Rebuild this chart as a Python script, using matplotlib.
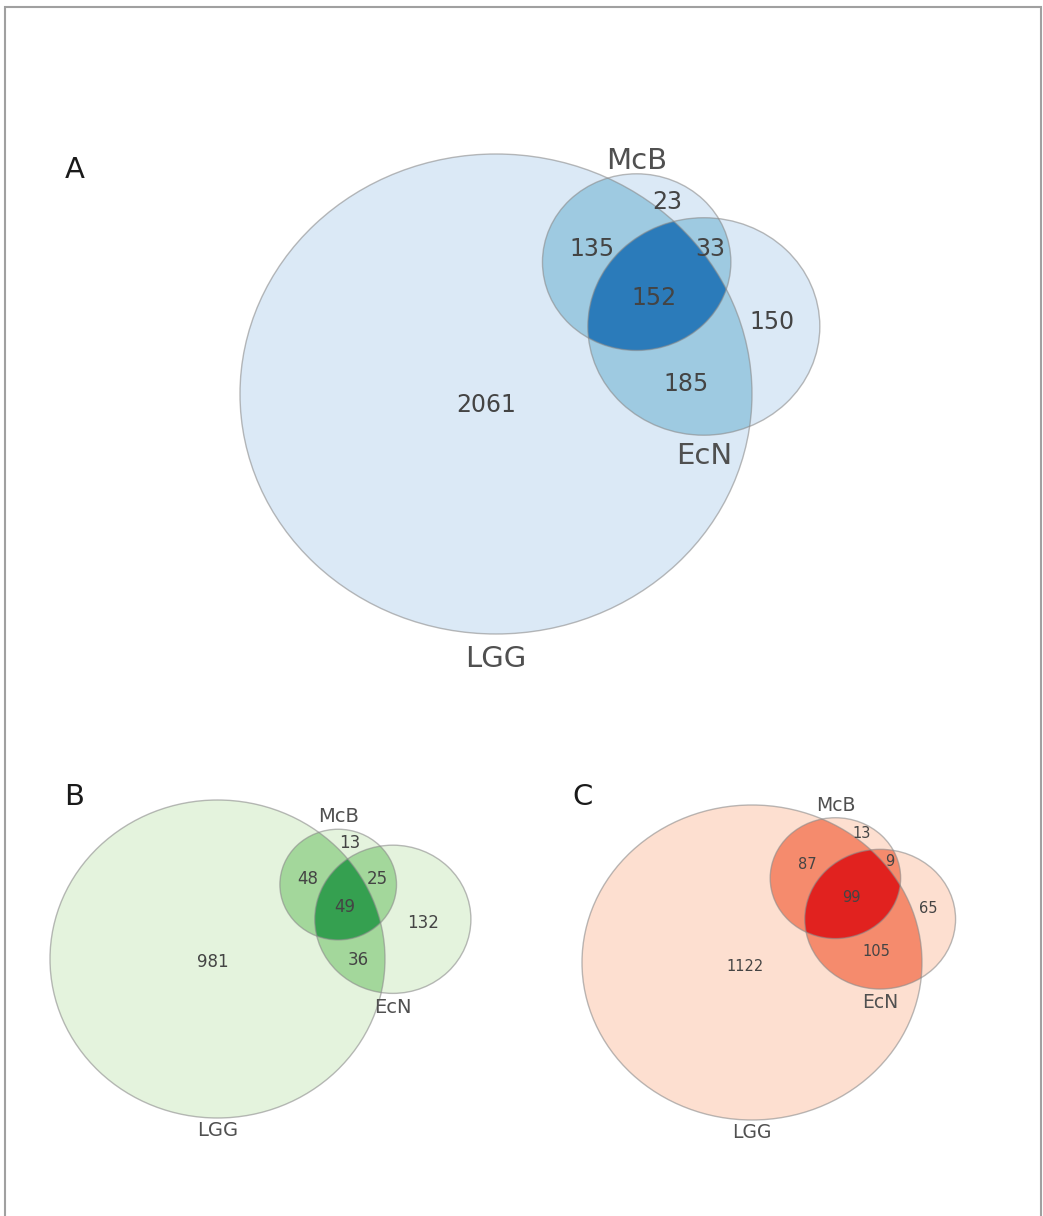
import numpy as np
import matplotlib
matplotlib.use("Agg")
import matplotlib.pyplot as plt
from matplotlib.patches import Circle, Polygon, Rectangle

# Three-set Venn diagrams (LGG, McB, EcN), area-proportional circles.
set_names = ["LGG", "McB", "EcN"]
panel_letters = ["A", "B", "C"]

# region codes as (LGG, McB, EcN) membership
region_codes = ["100", "010", "110", "001", "101", "011", "111"]
counts_A = [2061, 23, 135, 150, 185, 33, 152]
counts_B = [981, 13, 48, 132, 36, 25, 49]
counts_C = [1122, 13, 87, 65, 105, 9, 99]

palette_A = ["#dbe9f6", "#9ecae1", "#2b7bba"]
palette_B = ["#e4f3dd", "#a3d79b", "#35a050"]
palette_C = ["#fddfd0", "#f58b6d", "#e1221f"]

W, H, DPI = 1043, 1216, 100


def lens_area(r1, r2, d):
    if d >= r1 + r2:
        return 0.0
    if d <= abs(r1 - r2):
        return np.pi * min(r1, r2) ** 2
    a1 = r1 ** 2 * np.arccos((d * d + r1 * r1 - r2 * r2) / (2 * d * r1))
    a2 = r2 ** 2 * np.arccos((d * d + r2 * r2 - r1 * r1) / (2 * d * r2))
    k = 0.5 * np.sqrt((-d + r1 + r2) * (d + r1 - r2) * (d - r1 + r2) * (d + r1 + r2))
    return a1 + a2 - k


def solve_distance(r1, r2, area):
    lo, hi = abs(r1 - r2), r1 + r2
    for _ in range(100):
        mid = 0.5 * (lo + hi)
        if lens_area(r1, r2, mid) > area:
            lo = mid
        else:
            hi = mid
    return 0.5 * (lo + hi)


def layout(counts, theta_deg):
    c = dict(zip(region_codes, counts))
    size = [sum(v for k, v in c.items() if k[i] == "1") for i in range(3)]
    pair = {}
    for i in range(3):
        for j in range(i + 1, 3):
            pair[(i, j)] = sum(v for k, v in c.items() if k[i] == "1" and k[j] == "1")
    radii = np.sqrt(np.array(size) / np.pi)
    d01 = solve_distance(radii[0], radii[1], pair[(0, 1)])
    d02 = solve_distance(radii[0], radii[2], pair[(0, 2)])
    d12 = solve_distance(radii[1], radii[2], pair[(1, 2)])
    alpha = np.arccos(np.clip((d01 ** 2 + d02 ** 2 - d12 ** 2) / (2 * d01 * d02), -1, 1))
    th = np.radians(theta_deg)
    centers = np.array([[0.0, 0.0],
                        [d01 * np.cos(th), d01 * np.sin(th)],
                        [d02 * np.cos(th - alpha), d02 * np.sin(th - alpha)]])
    return centers, radii


def inside(p, c, r):
    return np.hypot(p[:, 0] - c[0], p[:, 1] - c[1]) <= r + 1e-9


def circle_points(c, r, n):
    t = np.linspace(0, 2 * np.pi, n, endpoint=False)
    return np.column_stack([c[0] + r * np.cos(t), c[1] + r * np.sin(t)])


def convex_intersection(centers, radii, idx, n=4000):
    pts = []
    for i in idx:
        p = circle_points(centers[i], radii[i], n)
        keep = np.ones(len(p), bool)
        for j in idx:
            if j != i:
                keep &= inside(p, centers[j], radii[j])
        pts.append(p[keep])
    pts = np.vstack(pts)
    m = pts.mean(axis=0)
    order = np.argsort(np.arctan2(pts[:, 1] - m[1], pts[:, 0] - m[0]))
    return pts[order]


def region_centroids(centers, radii, n=700):
    xmin = (centers[:, 0] - radii).min(); xmax = (centers[:, 0] + radii).max()
    ymin = (centers[:, 1] - radii).min(); ymax = (centers[:, 1] + radii).max()
    gx, gy = np.meshgrid(np.linspace(xmin, xmax, n), np.linspace(ymin, ymax, n))
    mem = [np.hypot(gx - c[0], gy - c[1]) <= r for c, r in zip(centers, radii)]
    out = {}
    for code in region_codes:
        mask = np.ones_like(gx, bool)
        for i, b in enumerate(code):
            mask &= mem[i] if b == "1" else ~mem[i]
        out[code] = np.array([gx[mask].mean(), gy[mask].mean()])
    # the large LGG-only label sits between the circle centre and its region centroid
    out["100"] = centers[0] + 0.3 * (out["100"] - centers[0])
    return out


panels = [
    dict(letter="A", counts=counts_A, pal=palette_A, theta=45, pc=(496, 394), rpx=(256, 240),
         box=(20, 100, 1030, 700), fs_num=17, fs_lab=21, lpos=(75, 170), num_dy=-4,
         lab_k={"LGG": 1.045, "McB": 0.985, "EcN": 1.06}),
    dict(letter="B", counts=counts_B, pal=palette_B, theta=33, pc=(217.5, 959), rpx=(167.5, 159),
         box=(20, 770, 520, 1180), fs_num=12, fs_lab=14, lpos=(74, 797), num_dy=-1,
         lab_k={"LGG": 1.018, "McB": 1.05, "EcN": 1.06}),
    dict(letter="C", counts=counts_C, pal=palette_C, theta=47.5, pc=(752, 962.5), rpx=(170, 157.5),
         box=(530, 770, 1030, 1180), fs_num=10.5, fs_lab=13.5, lpos=(583, 797), num_dy=0,
         lab_k={"LGG": 1.022, "McB": 1.05, "EcN": 1.06}),
]

fig = plt.figure(figsize=(W / DPI, H / DPI), dpi=DPI)
fig.patch.set_facecolor("white")

for P in panels:
    centers, radii = layout(P["counts"], P["theta"])
    sx = P["rpx"][0] / radii[0]
    sy = P["rpx"][1] / radii[0]
    x0, y0, x1, y1 = P["box"]
    ax = fig.add_axes([x0 / W, 1 - y1 / H, (x1 - x0) / W, (y1 - y0) / H])
    pcx, pcy = P["pc"]
    ax.set_xlim((x0 - pcx) / sx, (x1 - pcx) / sx)
    ax.set_ylim((pcy - y1) / sy, (pcy - y0) / sy)
    ax.set_aspect("auto")
    ax.axis("off")

    light, mid, dark = P["pal"]
    for c, r in zip(centers, radii):
        ax.add_patch(Circle(c, r, facecolor=light, edgecolor="none", zorder=1))
    for (i, j) in [(0, 1), (0, 2), (1, 2)]:
        poly = convex_intersection(centers, radii, (i, j))
        ax.add_patch(Polygon(poly, closed=True, facecolor=mid, edgecolor="none", zorder=2))
    poly = convex_intersection(centers, radii, (0, 1, 2))
    ax.add_patch(Polygon(poly, closed=True, facecolor=dark, edgecolor="none", zorder=3))
    for c, r in zip(centers, radii):
        ax.add_patch(Circle(c, r, facecolor="none", edgecolor="#8c8c8c", lw=1.0,
                            alpha=0.6, zorder=4))

    cents = region_centroids(centers, radii)
    for code, v in zip(region_codes, P["counts"]):
        ax.annotate(str(v), xy=cents[code], xytext=(0, P["num_dy"]),
                    textcoords="offset points", ha="center", va="center",
                    fontsize=P["fs_num"], color="#444444", zorder=5)

    # set labels: LGG and EcN below their circles, McB above
    for i, name in enumerate(set_names):
        c, r = centers[i], radii[i]
        k = P["lab_k"][name]
        if name == "McB":
            ax.text(c[0], c[1] + r * k, name, ha="center", va="bottom",
                    fontsize=P["fs_lab"], color="#505050", zorder=5)
        else:
            ax.text(c[0], c[1] - r * k, name, ha="center", va="top",
                    fontsize=P["fs_lab"], color="#505050", zorder=5)

    lx, ly = P["lpos"]
    fig.text(lx / W, 1 - ly / H, P["letter"], ha="center", va="center",
             fontsize=21, color="#1a1a1a")

# outer frame
fig.add_artist(Rectangle((5 / W, -0.05), 1036 / W, 1.05 - 7 / H, transform=fig.transFigure,
                         facecolor="none", edgecolor="#a0a0a0", lw=1.5))

fig.savefig("out.png", dpi=DPI)
